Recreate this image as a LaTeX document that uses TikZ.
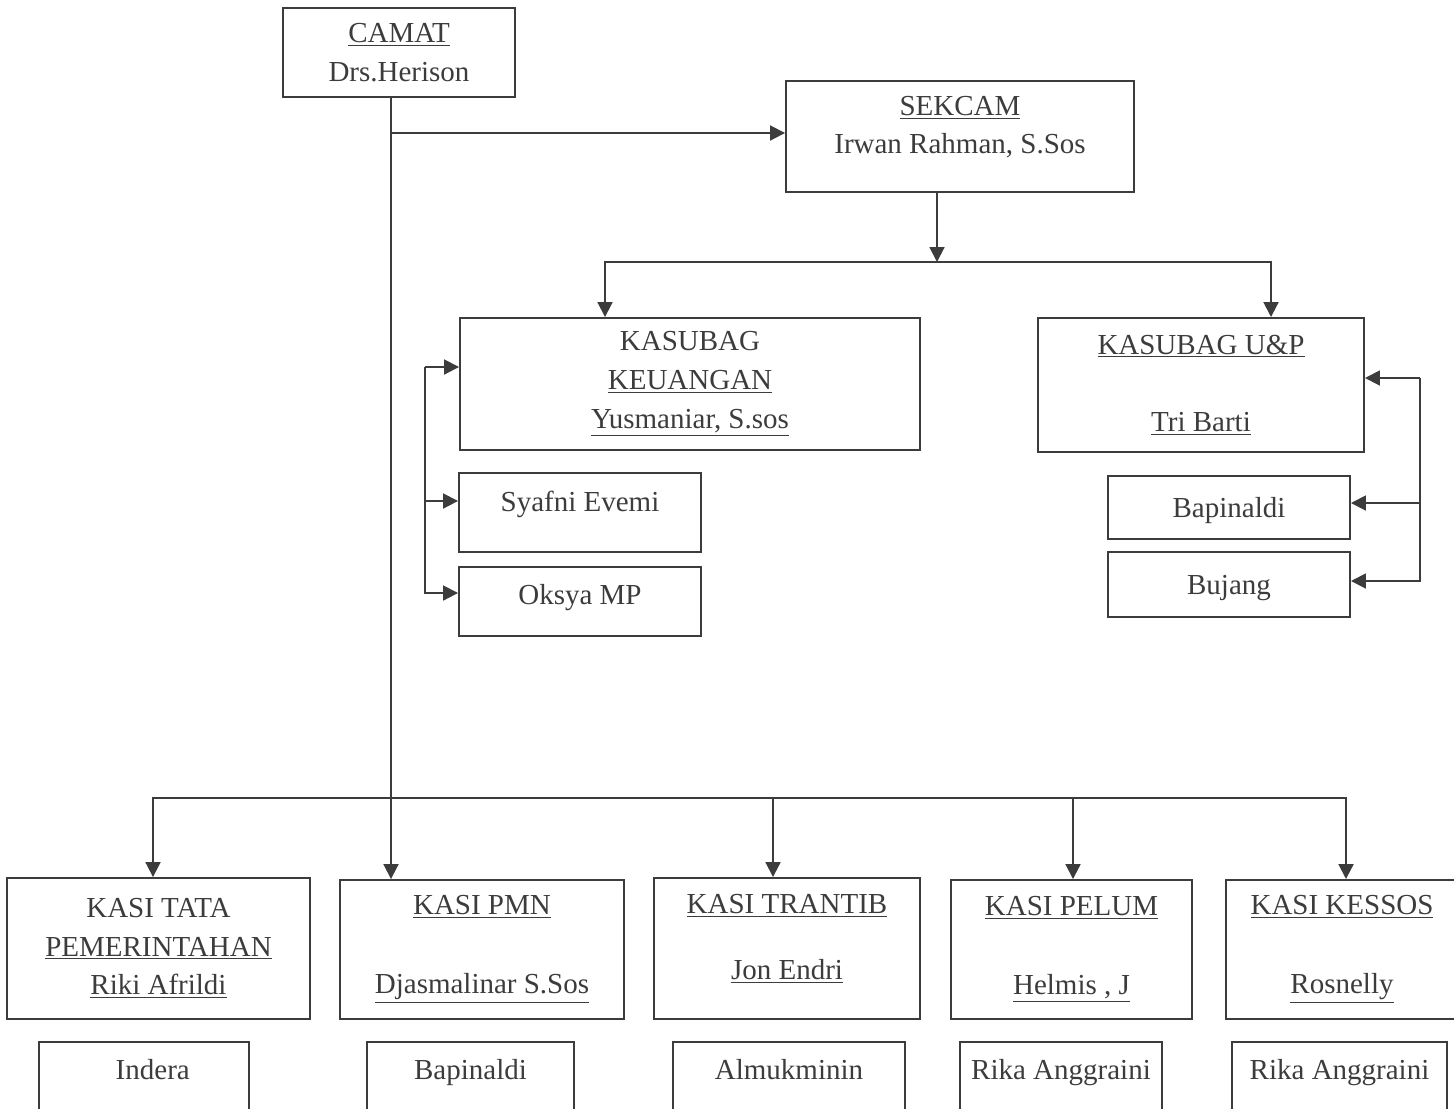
\documentclass[tikz,border=0pt]{standalone}
\usepackage{fontspec}
\setmainfont{Liberation Serif}
\usetikzlibrary{arrows.meta}
\definecolor{ocgray}{HTML}{3C3C3C}
% extra depth below the last line, to lift the text in its box
\newcommand{\lift}[1]{\rule[-#1]{0pt}{0pt}}
\tikzset{
  ocbox/.style={rectangle, draw=ocgray, line width=1.1pt, text=ocgray,
                align=center, inner sep=0pt,
                font=\fontsize{16.5}{22}\selectfont,
                execute at begin node=\rule{0pt}{14.8pt}},
  ocstaff/.style={ocbox, minimum height=1.44cm,
                  text height=11pt, text depth=8.8pt},
  oclink/.style={draw=ocgray, line width=1.1pt},
  ocarrow/.style={oclink, -{Triangle[length=8.5pt, width=8.5pt]}}
}
\begin{document}
\begin{tikzpicture}
  \useasboundingbox (0,0) rectangle (29.08,-22.16);
  % head and secretary
  \node[ocbox, minimum width=4.64cm, minimum height=1.78cm] (camat) at (7.98,-1.05)
    {\underline{CAMAT}\\Drs.Herison};
  \node[ocbox, minimum width=6.96cm, minimum height=2.22cm] (sekcam) at (19.20,-2.73)
    {\underline{SEKCAM}\\Irwan Rahman, S.Sos\lift{0.46cm}};
  % sub-sections
  \node[ocbox, minimum width=9.20cm, minimum height=2.64cm] (keu) at (13.80,-7.68)
    {KASUBAG\\\underline{KEUANGAN}\\\underline{Yusmaniar, S.sos}};
  \node[ocbox, minimum width=4.84cm, minimum height=1.58cm] (syafni) at (11.60,-10.25)
    {Syafni Evemi\lift{0.57cm}};
  \node[ocbox, minimum width=4.84cm, minimum height=1.38cm] (oksya) at (11.60,-12.03)
    {Oksya MP\lift{0.41cm}};
  \node[ocbox, minimum width=6.52cm, minimum height=2.68cm] (up) at (24.02,-7.70)
    {\underline{KASUBAG U\&P}\\[22pt]\underline{Tri Barti}};
  \node[ocbox, minimum width=4.84cm, minimum height=1.26cm] (bapr) at (24.58,-10.15)
    {Bapinaldi};
  \node[ocbox, minimum width=4.84cm, minimum height=1.30cm] (bujang) at (24.58,-11.69)
    {Bujang};
  % sections
  \node[ocbox, minimum width=6.06cm, minimum height=2.82cm] (tata) at (3.17,-18.97)
    {KASI TATA\\\underline{PEMERINTAHAN}\\\underline{Riki Afrildi}};
  \node[ocbox, minimum width=5.68cm, minimum height=2.78cm] (pmn) at (9.64,-18.99)
    {\underline{KASI PMN}\\[23pt]\underline{Djasmalinar S.Sos}};
  \node[ocbox, minimum width=5.32cm, minimum height=2.82cm] (trantib) at (15.74,-18.97)
    {\underline{KASI TRANTIB}\\[15.5pt]\underline{Jon Endri}\lift{0.45cm}};
  \node[ocbox, minimum width=4.82cm, minimum height=2.78cm] (pelum) at (21.43,-18.99)
    {\underline{KASI PELUM}\\[23pt]\underline{Helmis , J}};
  \node[ocbox, minimum width=4.64cm, minimum height=2.78cm] (kessos) at (26.84,-18.99)
    {\underline{KASI KESSOS}\\[23pt]\underline{Rosnelly}};
  % staff
  \node[ocstaff, minimum width=4.20cm] (indera) at (2.88,-21.56) {\hspace{0.35cm}Indera};
  \node[ocstaff, minimum width=4.14cm] (bapinaldi) at (9.41,-21.56) {Bapinaldi};
  \node[ocstaff, minimum width=4.64cm] (almukminin) at (15.78,-21.56) {Almukminin};
  \node[ocstaff, minimum width=4.04cm] (rika) at (21.22,-21.56) {Rika Anggraini};
  \node[ocstaff, minimum width=4.30cm] (rikak) at (26.79,-21.56) {Rika Anggraini};
  % lines
  \coordinate (trunk) at (7.82,-2.66);
  \coordinate (bus) at (7.82,-15.96);
  \coordinate (split) at (18.74,-5.24);
  \coordinate (kbus) at (8.50,-7.34);
  \coordinate (rbus) at (28.40,-7.56);
  \draw[oclink] (camat.south -| trunk) -- (trunk);
  \draw[ocarrow] (trunk) -- (trunk -| sekcam.west);
  \draw[ocarrow] (trunk) -- (trunk |- pmn.north);
  \draw[ocarrow] (sekcam.south -| split) -- (split);
  \foreach \n/\dx in {keu/-1.70, up/1.40}
    \draw[ocarrow] (split) -| ([xshift=\dx cm]\n.north);
  \foreach \n/\dy in {keu/0.34, syafni/0.23, oksya/0.17}
    \draw[ocarrow] (kbus) |- ([yshift=\dy cm]\n.west);
  \foreach \n/\dy in {up/0.14, bapr/0.09, bujang/0.07}
    \draw[ocarrow] (rbus) |- ([yshift=\dy cm]\n.east);
  \foreach \n/\dx in {tata/-0.11, trantib/-0.28, pelum/0.03, kessos/0.08}
    \draw[ocarrow] (bus) -| ([xshift=\dx cm]\n.north);
\end{tikzpicture}
\end{document}
